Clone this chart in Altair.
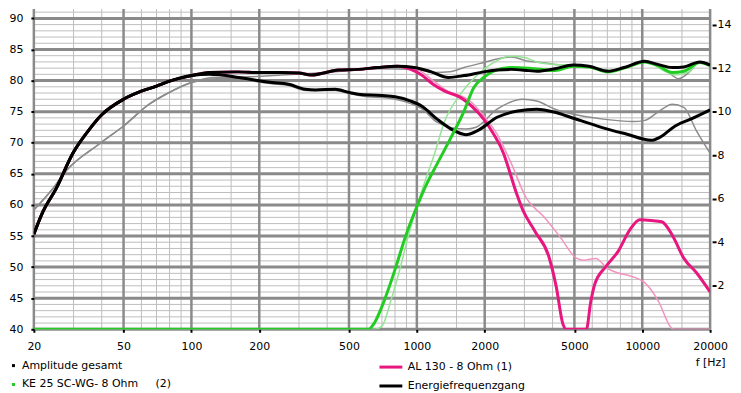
import altair as alt
import pandas as pd

# ---------------- data ----------------
# Amplitude gesamt (thick black, upper)
tot_f = [20, 22, 25, 30, 35, 40, 50, 60, 70, 80, 100, 120, 160, 200, 250, 300, 340, 450, 550, 670, 820,
         975, 1160, 1380, 1620, 1980, 2270, 2620, 3140, 3400, 4100, 4930, 5800, 7050, 8300, 10250, 11700,
         13600, 15300, 18000, 20000]
tot_db = [55.3, 59.0, 62.5, 68.5, 72.0, 74.5, 77.0, 78.3, 79.1, 79.9, 80.8, 81.3, 81.4, 81.3, 81.3, 81.2, 80.9,
          81.7, 81.8, 82.1, 82.3, 82.1, 81.4, 80.5, 80.8, 81.4, 81.7, 81.8, 81.6, 81.5, 81.9, 82.5, 82.3, 81.5,
          82.1, 83.1, 82.6, 82.1, 82.2, 83.0, 82.5]

# Energiefrequenzgang (thick black, lower)
en_f = [20, 22, 25, 30, 35, 40, 50, 60, 70, 80, 100, 120, 162, 190, 228, 270, 320, 355, 435, 500, 550, 700,
        800, 940, 1050, 1230, 1420, 1650, 1850, 2270, 2800, 3400, 4100, 4800, 6700, 8500, 10950, 12000,
        14000, 16400, 20000]
en_db = [55.3, 59.0, 62.5, 68.5, 72.0, 74.5, 77.0, 78.3, 79.1, 79.9, 80.8, 81.0, 80.5, 80.1, 79.7, 79.4, 78.6,
         78.5, 78.6, 78.1, 77.8, 77.6, 77.4, 76.7, 75.9, 73.8, 72.2, 71.3, 71.9, 74.1, 75.1, 75.4, 74.9, 74.1,
         72.4, 71.4, 70.4, 70.9, 72.7, 73.8, 75.3]

# AL 130 - 8 Ohm (1) (thick pink)
al_f = [20, 22, 25, 30, 35, 40, 50, 60, 70, 80, 100, 120, 160, 200, 250, 300, 340, 450, 550, 670, 820, 940,
        1050, 1180, 1330, 1560, 1750, 1980, 2190, 2430, 2520, 2790, 2950, 3350, 3850, 4150, 4450, 4600, 5650,
        5900, 6150, 6900, 7800, 8810, 9750, 10950, 12200, 13700, 15300, 17400, 20000]
al_db = [55.3, 59.0, 62.5, 68.5, 72.0, 74.5, 77.0, 78.3, 79.1, 79.9, 80.8, 81.3, 81.4, 81.3, 81.3, 81.2, 80.9,
         81.7, 81.8, 82.1, 82.3, 81.8, 80.9, 79.4, 78.3, 77.3, 75.9, 73.8, 71.4, 68.2, 66.5, 61.5, 59.2, 55.7,
         51.7, 46.9, 40.8, 40.0, 40.0, 44.3, 47.2, 50.1, 52.5, 56.0, 57.6, 57.5, 57.3, 54.9, 51.4, 49.1, 46.0]

# KE 25 SC-WG- 8 Ohm (2) (thick green)
ke_f = [20, 610, 650, 720, 800, 890, 1000, 1110, 1230, 1420, 1620, 1790, 1980, 2190, 2620, 3140, 4100, 4930,
        5800, 7050, 8300, 10250, 11700, 13600, 15300, 18000, 20000]
ke_db = [40, 40, 41.1, 44.8, 49.6, 54.9, 59.7, 63.5, 66.6, 70.9, 75.1, 78.9, 80.5, 81.5, 82.1, 82.0, 81.6, 82.3,
         82.2, 81.4, 82.0, 83.0, 82.4, 81.3, 81.5, 82.9, 82.4]

# thin reference curves
gu_f = [20, 24, 28, 39, 50, 65, 77, 100, 124, 180, 250, 400, 700, 1000, 1200, 1400, 1620, 1980, 2450, 2620,
        3140, 3400, 4100, 4930, 5800, 7050, 8300, 10250, 12600, 14500, 16100, 18000, 20000]
gu_db = [59.2, 62.4, 65.6, 69.8, 72.7, 76.2, 77.8, 79.7, 80.5, 80.6, 80.9, 81.3, 81.9, 81.8, 81.3, 81.4, 82.1,
         82.9, 83.7, 83.8, 83.1, 83.0, 82.6, 82.5, 82.3, 81.6, 82.1, 83.1, 81.8, 80.3, 81.3, 83.0, 82.5]

gl_f = [20, 24, 28, 39, 50, 65, 77, 100, 130, 162, 190, 228, 270, 320, 435, 500, 600, 740, 940, 1050, 1230,
        1420, 1650, 1830, 2270, 2950, 3400, 4100, 4800, 6700, 9100, 10250, 11700, 13600, 15300, 17400, 20000]
gl_db = [59.2, 62.4, 65.6, 69.8, 72.7, 76.2, 77.8, 79.7, 80.3, 80.3, 79.9, 79.5, 79.2, 78.4, 78.4, 77.9, 77.4,
         77.2, 76.3, 75.5, 73.3, 72.4, 72.2, 72.5, 75.4, 77.0, 76.7, 75.4, 74.7, 73.8, 73.4, 73.6, 74.9, 76.2,
         75.7, 71.9, 68.3]

lp_f = [20, 22, 25, 30, 35, 40, 50, 60, 70, 80, 100, 120, 160, 200, 250, 300, 340, 450, 550, 670, 820, 1000,
        1180, 1330, 1750, 1980, 2270, 2600, 3070, 3660, 4310, 5120, 5500, 6220, 7000, 7760, 9000, 10250, 11800,
        13400, 13700, 20000]
lp_db = [55.3, 59.0, 62.5, 68.5, 72.0, 74.5, 77.0, 78.3, 79.1, 79.9, 80.8, 81.3, 81.4, 81.3, 81.3, 81.2, 80.9,
         81.7, 81.8, 82.1, 82.2, 81.8, 80.0, 78.6, 76.5, 74.3, 71.4, 67.0, 61.0, 58.1, 54.9, 51.4, 51.1, 51.4,
         49.8, 49.1, 48.5, 47.5, 44.5, 40.3, 40.0, 40.0]

lg_f = [20, 650, 700, 770, 840, 910, 1000, 1110, 1180, 1330, 1560, 1830, 2190, 2620, 3000, 3400, 4100, 4930,
        5800, 7050, 8300, 10250, 12600, 14000, 16100, 18000, 20000]
lg_db = [40, 40, 40.5, 44.8, 49.6, 54.6, 59.7, 64.8, 67.5, 73.5, 77.8, 80.7, 82.9, 83.9, 83.7, 83.0, 82.6, 82.5,
         82.3, 81.6, 82.1, 83.1, 81.5, 80.9, 81.4, 83.0, 82.5]

# axis ticks / grid values
x_major = [20, 50, 100, 200, 500, 1000, 2000, 5000, 10000, 20000]
x_minor = [30, 40, 60, 70, 80, 90, 150, 300, 400, 600, 700, 800, 900, 1500, 3000, 4000, 6000, 7000, 8000,
           9000, 15000]
y_major = [40, 45, 50, 55, 60, 65, 70, 75, 80, 85, 90]
y_minor = list(range(40, 92))
r_ticks = [2, 4, 6, 8, 10, 12, 14]

names = ["Amplitude gesamt", "KE 25 SC-WG- 8 Ohm\u00a0\u00a0\u00a0\u00a0\u00a0(2)",
         "AL 130 - 8 Ohm (1)", "Energiefrequenzgang"]

# ---------------- build ----------------
FONT = "DejaVu Sans"
Y_TOP = 91.5


def frame(name, f, db):
    return pd.DataFrame({"f": f, "db": db, "series": name})


xscale = alt.Scale(type="log", domain=[20, 20000], nice=False)
yscale = alt.Scale(domain=[40, Y_TOP], nice=False, zero=False)
xaxis = alt.Axis(values=x_major, format="d", grid=False, domain=False, tickSize=3, tickColor="black",
                 tickWidth=2, labelPadding=8, labelFont=FONT, labelFontSize=11, labelColor="black",
                 labelFlush=False, labelOverlap=False, title="f [Hz]", titleX=695, titleY=33,
                 titleAlign="right", titleBaseline="middle", titleFont=FONT, titleFontSize=11,
                 titleFontWeight="normal", titleColor="black", zindex=1)
yaxis = alt.Axis(values=y_major, format="d", grid=False, domain=False, tickSize=3, tickColor="black",
                 tickWidth=2, labelPadding=8, labelFont=FONT, labelFontSize=11, labelColor="black",
                 labelOverlap=False, title=None, orient="left", zindex=1)

X = alt.X("f:Q", scale=xscale, axis=xaxis)
Y = alt.Y("db:Q", scale=yscale, axis=yaxis)

hmin = alt.Chart(pd.DataFrame({"db": y_minor})).mark_rule(color="#bdbdbd", strokeWidth=1).encode(y=Y)
vmin = alt.Chart(pd.DataFrame({"f": x_minor})).mark_rule(color="#bdbdbd", strokeWidth=1).encode(x=X)
hmaj = alt.Chart(pd.DataFrame({"db": y_major})).mark_rule(color="#8a8a8a", strokeWidth=3).encode(y=Y)
vmaj = alt.Chart(pd.DataFrame({"f": x_major})).mark_rule(color="#8a8a8a", strokeWidth=2.5).encode(x=X)

thin_df = pd.concat([frame("gu", gu_f, gu_db), frame("gl", gl_f, gl_db),
                     frame("lp", lp_f, lp_db), frame("lg", lg_f, lg_db)])
thin = alt.Chart(thin_df).mark_line(strokeWidth=1.5, interpolate="monotone", clip=True).encode(
    x=X, y=Y,
    color=alt.Color("series:N", scale=alt.Scale(domain=["gu", "gl", "lp", "lg"],
                                                range=["#8c8c8c", "#8c8c8c", "#f294bf", "#95e495"]),
                    legend=None))

legA = alt.Legend(title=None, orient="none", legendX=-26, legendY=353, padding=0, symbolType="stroke",
                  symbolSize=9, symbolStrokeWidth=3, labelOffset=3, rowPadding=6, labelFont=FONT,
                  labelFontSize=11, labelColor="black", labelLimit=400)
legB = alt.Legend(title=None, orient="none", legendX=346, legendY=347, padding=0, symbolType="stroke",
                  symbolSize=529, symbolStrokeWidth=3, labelOffset=4, rowPadding=-7, labelFont=FONT,
                  labelFontSize=11, labelColor="black", labelLimit=400)
scaleA = alt.Scale(domain=[names[0], names[1]], range=["#000000", "#22cc22"])
scaleB = alt.Scale(domain=[names[2], names[3]], range=["#e8167f", "#000000"])


def thick(df, scale, legend):
    return alt.Chart(df).mark_line(strokeWidth=3, interpolate="monotone", clip=True).encode(
        x=X, y=Y, color=alt.Color("series:N", scale=scale, legend=legend))


layerB = alt.layer(thick(frame(names[2], al_f, al_db), scaleB, legB),
                   thick(frame(names[3], en_f, en_db), scaleB, legB))
layerA = alt.layer(thick(frame(names[1], ke_f, ke_db), scaleA, legA),
                   thick(frame(names[0], tot_f, tot_db), scaleA, legA))

main = alt.layer(hmin, vmin, hmaj, vmaj, thin, layerB, layerA).resolve_scale(color="independent")

right = alt.Chart(pd.DataFrame({"r": r_ticks})).mark_point(opacity=0).encode(
    y=alt.Y("r:Q", scale=alt.Scale(domain=[0, (Y_TOP - 40) / 3.5], nice=False, zero=True),
            axis=alt.Axis(values=r_ticks, orient="right", grid=False, domain=False, tickSize=4, offset=2,
                          tickColor="black", tickWidth=2, labelPadding=1, labelFont=FONT, labelFontSize=11,
                          labelColor="black", title=None, zindex=1)))

chart = alt.layer(main, right).resolve_scale(y="independent", color="independent").properties(
    width=680, height=322,
    padding={"left": 26, "top": 0, "right": 23, "bottom": 66},
    autosize=alt.AutoSizeParams(type="none"),
).configure_view(stroke=None)

chart.save("out.html", embed_options={"renderer": "svg", "actions": False})
